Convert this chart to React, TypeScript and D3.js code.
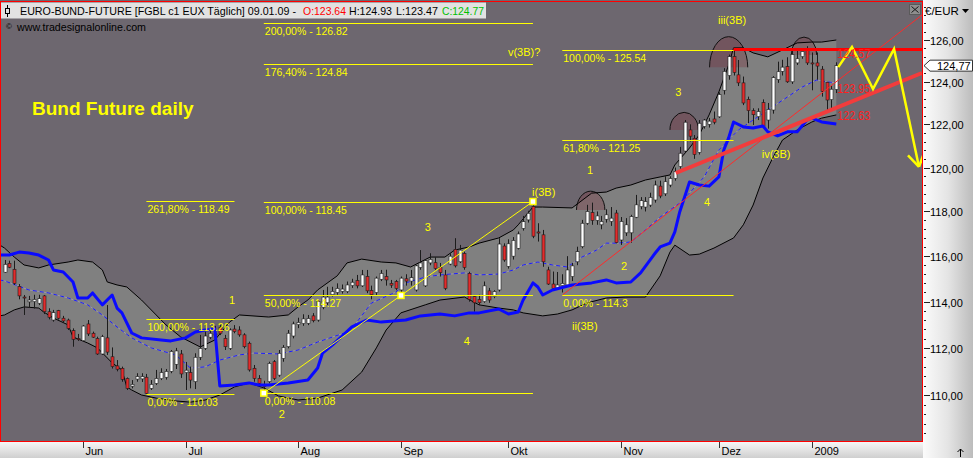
import { useEffect, useRef } from 'react'
import * as d3 from 'd3'

// daily bars, bar 0 = 09.05.08 ... bar 170 = 09.01.09
const opens = [
  115.29, 115.68, 115.42, 114.66, 114.2, 113.99, 114.0, 113.93, 114.25, 113.56,
  113.2, 113.61, 113.28, 113.2, 112.74, 112.4, 112.31, 113.03, 112.63, 112.4,
  111.74, 112.43, 111.62, 111.23, 111.13, 110.7, 110.37, 110.67, 110.68, 110.75,
  110.28, 110.49, 110.69, 110.75, 111.0, 111.3, 111.74, 110.95, 110.95, 110.56,
  111.6, 111.98, 112.46, 112.6, 112.89, 112.41, 111.98, 112.81, 112.77, 112.56,
  112.2, 111.13, 110.7, 110.45, 110.56, 111.41, 110.84, 111.55, 112.05, 112.51,
  113.0, 113.05, 113.06, 113.38, 113.2, 113.75, 113.95, 114.3, 114.4, 114.45,
  114.44, 114.7, 114.92, 114.69, 115.1, 114.49, 114.4, 114.98, 115.1, 114.8,
  114.88, 114.51, 115.0, 114.9, 114.51, 115.5, 114.69, 115.7, 115.71, 115.5,
  115.17, 115.65, 116.3, 115.75, 116.12, 115.24, 114.22, 114.1, 114.0, 114.47,
  114.22, 114.51, 116.45, 115.55, 116.0, 116.35, 117.24, 117.62, 118.22, 117.08,
  116.95, 115.39, 114.77, 114.6, 114.7, 114.73, 115.1, 115.75, 116.42, 117.47,
  117.95, 117.6, 117.4, 117.65, 117.55, 117.93, 116.72, 117.04, 117.04, 117.74,
  118.22, 118.2, 118.29, 118.52, 119.15, 118.8, 119.2, 119.5, 120.05, 120.76,
  121.74, 121.35, 120.7, 121.9, 122.0, 122.25, 122.35, 123.6, 124.3, 125.2,
  124.33, 123.95, 123.17, 122.64, 122.36, 123.02, 122.2, 122.67, 124.1, 124.5,
  124.72, 124.0, 124.9, 125.2, 125.6, 124.9, 124.9, 124.6, 123.98, 123.16,
  123.64,
]
const highs = [
  115.83, 115.8, 115.8, 114.77, 114.29, 114.25, 114.3, 114.3, 114.29, 113.71,
  113.64, 113.64, 113.38, 113.26, 112.84, 112.6, 112.98, 113.2, 112.7, 112.48,
  112.56, 113.85, 112.02, 111.48, 111.2, 110.74, 110.63, 110.92, 110.92, 110.89,
  110.63, 111.06, 111.13, 111.1, 111.91, 112.0, 111.91, 111.4, 111.2, 111.77,
  112.56, 112.7, 112.77, 112.95, 112.98, 112.56, 112.84, 112.98, 112.93, 112.63,
  112.27, 111.27, 110.84, 110.6, 111.41, 111.48, 111.91, 112.12, 112.77, 113.13,
  113.3, 113.45, 113.42, 113.5, 114.07, 114.51, 114.65, 114.65, 114.8, 114.75,
  114.88, 115.0, 115.17, 115.39, 115.39, 114.7, 115.1, 115.39, 115.4, 114.95,
  114.95, 115.1, 115.2, 115.39, 115.61, 116.27, 115.86, 116.13, 115.95, 115.7,
  115.39, 116.13, 116.8, 116.5, 116.2, 115.31, 114.29, 114.3, 114.88, 114.6,
  114.5, 116.8, 116.57, 116.75, 116.85, 117.1, 117.8, 118.03, 118.45, 117.47,
  117.17, 115.53, 115.32, 115.3, 115.2, 116.0, 115.7, 116.42, 117.62, 118.3,
  118.4, 118.0, 117.8, 118.1, 118.2, 118.07, 117.75, 117.7, 117.85, 118.75,
  118.65, 118.65, 118.85, 119.4, 119.4, 119.6, 119.6, 120.0, 120.95, 122.2,
  122.0, 121.5, 122.2, 122.25, 122.3, 122.6, 123.5, 124.65, 125.3, 125.6,
  125.04, 124.25, 123.3, 122.75, 122.75, 123.17, 123.0, 124.27, 124.96, 125.05,
  125.17, 125.5, 125.55, 125.6, 125.7, 125.4, 125.4, 124.75, 124.0, 123.8,
  124.93,
]
const lows = [
  115.26, 115.47, 114.73, 114.1, 113.42, 113.72, 113.7, 113.85, 113.46, 113.23,
  113.13, 113.22, 113.08, 112.77, 112.05, 112.3, 112.27, 112.51, 112.43, 111.7,
  111.7, 111.7, 111.12, 111.0, 110.56, 110.21, 110.28, 110.56, 110.55, 110.03,
  110.21, 110.42, 110.63, 110.65, 110.92, 111.1, 110.72, 110.21, 110.28, 110.25,
  111.48, 111.91, 112.38, 112.3, 112.55, 111.91, 111.91, 112.63, 112.48, 111.98,
  110.99, 110.56, 110.42, 110.08, 110.49, 110.63, 110.77, 111.41, 111.98, 112.41,
  112.85, 112.95, 112.98, 113.1, 113.13, 113.67, 113.85, 114.22, 114.3, 114.35,
  114.37, 114.6, 114.58, 114.64, 114.37, 114.1, 114.29, 114.9, 114.7, 114.6,
  114.5, 114.4, 114.7, 114.7, 114.44, 115.4, 114.64, 115.6, 115.39, 115.1,
  114.5, 115.6, 115.5, 115.7, 115.4, 114.0, 113.56, 113.85, 113.95, 113.95,
  114.15, 114.44, 115.75, 115.45, 115.85, 116.3, 117.14, 117.5, 116.8, 116.65,
  115.53, 114.73, 114.51, 114.51, 114.4, 114.64, 114.9, 115.6, 116.35, 117.4,
  117.4, 117.4, 117.2, 117.5, 117.35, 116.57, 116.5, 116.9, 116.6, 117.7,
  118.1, 118.0, 118.2, 118.4, 118.6, 118.7, 119.1, 119.4, 119.95, 120.7,
  121.2, 120.4, 120.6, 121.8, 121.85, 122.0, 122.3, 123.4, 124.1, 124.3,
  123.8, 122.9, 122.05, 121.97, 122.2, 121.83, 121.8, 122.5, 123.95, 124.3,
  123.95, 123.9, 124.8, 125.1, 124.8, 123.6, 124.1, 123.3, 122.67, 122.75,
  123.47,
]
const closes = [
  115.64, 115.51, 114.8, 114.25, 114.17, 114.07, 114.1, 114.13, 113.56, 113.32,
  113.52, 113.28, 113.16, 112.84, 112.37, 112.37, 112.94, 112.6, 112.46, 111.74,
  112.48, 111.82, 111.2, 111.09, 110.66, 110.28, 110.45, 110.78, 110.78, 110.07,
  110.45, 110.7, 110.95, 111.0, 111.85, 111.87, 110.89, 111.05, 110.63, 111.6,
  111.98, 112.51, 112.63, 112.55, 112.63, 112.05, 112.77, 112.7, 112.56, 112.05,
  111.06, 110.7, 110.49, 110.35, 111.34, 110.7, 111.77, 112.02, 112.63, 113.03,
  113.1, 113.25, 113.27, 113.17, 114.0, 114.2, 114.2, 114.45, 114.58, 114.55,
  114.73, 114.85, 114.69, 115.17, 114.47, 114.3, 115.03, 115.24, 114.95, 114.72,
  114.58, 115.03, 114.9, 115.05, 115.57, 115.7, 115.8, 115.86, 115.46, 115.27,
  114.58, 116.0, 115.57, 116.27, 115.5, 114.1, 113.95, 113.95, 114.69, 114.07,
  114.44, 116.54, 115.83, 116.55, 116.7, 116.99, 117.54, 117.92, 116.89, 117.03,
  115.75, 114.77, 114.58, 114.73, 114.8, 115.39, 115.57, 116.2, 117.47, 118.0,
  117.6, 117.8, 117.55, 117.85, 117.7, 116.6, 117.55, 117.4, 117.77, 118.3,
  118.49, 118.45, 118.64, 119.2, 118.7, 119.35, 119.5, 119.82, 120.66, 122.1,
  121.45, 120.6, 122.05, 122.2, 122.15, 122.1, 123.4, 124.5, 125.2, 124.45,
  123.95, 123.0, 122.64, 122.45, 122.6, 121.9, 122.7, 124.2, 124.48, 124.7,
  124.0, 125.3, 125.1, 125.45, 124.9, 124.85, 124.75, 123.55, 123.14, 123.65,
  124.77,
]

// month starts (bar index) for the time axis
const monthBars = [16, 37, 60, 81, 103, 126, 146, 165]
const monthLabels = ['Jun', 'Jul', 'Aug', 'Sep', 'Okt', 'Nov', 'Dez', '2009']
const priceTicks = [110, 112, 114, 116, 118, 120, 122, 124, 126]

// indicators, read as [bar, price]
const upperBand: [number, number][] = [
  [-1, 116.5], [0, 116.36], [2, 115.96], [4, 115.61], [7, 115.48], [9, 115.61], [13, 115.74], [15, 115.83],
  [18, 115.74], [20, 115.39], [21, 114.86], [23, 114.73], [25, 114.64], [28, 114.07], [31, 113.42], [33, 112.99],
  [36, 112.47], [40, 112.04], [43, 112.34], [46, 113.11], [48, 113.42], [54, 113.33], [58, 113.42], [60, 113.77],
  [62, 114.07], [64, 114.51], [68, 115.13], [70, 115.7], [73, 115.87], [77, 115.74], [80, 115.7], [83, 115.52],
  [85, 115.74], [87, 115.96], [90, 115.96], [92, 116.27], [95, 116.41], [97, 116.58], [101, 116.81], [104, 117.17],
  [105, 117.4], [108, 118.2], [110, 118.2], [116, 118.16], [120, 118.83], [123, 118.88], [125, 119.06], [128, 119.2],
  [131, 119.43], [134, 119.57], [136, 119.66], [137, 120.12], [140, 120.9], [142, 121.51], [144, 122.44], [146, 123.52],
  [148, 124.8], [149, 125.62], [151, 125.62], [153, 125.38], [156, 125.19], [159, 125.52], [162, 125.86], [165, 125.9],
  [167, 125.9], [170, 126.0],
]
const lowerBand: [number, number][] = [
  [-1, 113.38], [0, 113.42], [2, 113.64], [4, 113.77], [7, 113.72], [8, 113.55], [10, 113.29], [13, 112.99],
  [14, 112.47], [17, 112.21], [19, 112.0], [22, 111.36], [24, 111.06], [25, 110.34], [26, 110.21], [28, 110.0],
  [31, 109.87], [35, 109.75], [38, 109.7], [41, 109.79], [44, 110.0], [47, 110.34], [50, 110.51], [53, 110.3],
  [56, 109.96], [60, 109.79], [64, 109.87], [69, 110.21], [73, 110.97], [76, 112.0], [78, 112.77], [81, 113.51],
  [86, 113.86], [89, 114.07], [94, 114.2], [97, 113.86], [101, 113.72], [104, 113.64], [106, 113.51], [110, 113.38],
  [113, 113.46], [116, 113.64], [119, 113.94], [123, 114.16], [127, 114.2], [131, 114.2], [134, 115.13], [136, 116.18],
  [137, 116.49], [140, 116.05], [142, 116.09], [145, 116.36], [149, 116.81], [151, 117.4], [153, 118.29], [155, 119.52],
  [157, 120.44], [159, 121.27], [162, 121.74], [165, 122.11], [167, 122.29], [170, 122.44],
]
const middleAvg: [number, number][] = [
  [-1, 114.95], [0, 114.91], [5, 114.51], [9, 114.38], [13, 114.16], [17, 113.86], [20, 113.42], [23, 112.9],
  [26, 112.43], [30, 112.0], [35, 111.7], [38, 111.14], [41, 111.19], [44, 111.48], [48, 111.7], [51, 111.78],
  [56, 111.74], [60, 111.91], [64, 112.25], [70, 112.68], [72, 113.11], [75, 113.94], [80, 114.42], [82, 114.82],
  [86, 115.08], [89, 115.17], [94, 115.26], [97, 115.17], [101, 115.21], [104, 115.39], [106, 115.61], [109, 115.74],
  [112, 115.61], [115, 115.52], [118, 115.96], [121, 116.27], [123, 116.58], [125, 116.58], [128, 116.63], [131, 117.17],
  [134, 117.75], [138, 118.38], [140, 118.84], [143, 119.57], [146, 120.81], [150, 121.74], [153, 122.2], [156, 122.67],
  [160, 123.28], [163, 123.75], [166, 124.09], [168, 124.0], [170, 123.95],
]
const stopLine: [number, number][] = [
  [-1, 116.05], [1, 116.05], [3, 116.18], [5, 116.14], [7, 116.05], [9, 115.83], [10, 115.39], [12, 115.3],
  [14, 114.86], [15, 114.16], [17, 114.16], [18, 114.38], [20, 113.86], [22, 114.29], [23, 113.72], [24, 113.51],
  [26, 112.64], [28, 112.43], [32, 112.34], [34, 112.3], [37, 112.43], [39, 112.68], [41, 112.77], [43, 112.81],
  [44, 110.38], [47, 110.42], [50, 110.51], [52, 110.42], [54, 110.42], [58, 110.51], [62, 110.63], [64, 111.14],
  [65, 111.78], [67, 112.12], [69, 112.51], [71, 112.9], [74, 113.2], [77, 113.11], [82, 113.2], [85, 113.38],
  [89, 113.46], [92, 113.38], [95, 113.51], [97, 113.51], [101, 113.68], [103, 113.46], [105, 113.55], [106, 114.07],
  [108, 114.82], [109, 114.64], [110, 114.29], [112, 114.51], [116, 114.73], [120, 114.82], [123, 114.95], [125, 114.82],
  [128, 114.86], [130, 115.26], [133, 116.14], [134, 116.41], [136, 116.58], [137, 117.08], [138, 117.98], [140, 119.34],
  [142, 119.2], [144, 119.15], [146, 119.57], [147, 120.81], [148, 121.37], [149, 122.11], [151, 121.88], [153, 121.83],
  [155, 121.92], [156, 121.65], [158, 121.46], [160, 121.65], [162, 121.65], [164, 122.2], [165, 122.29], [167, 122.11],
  [170, 122.02],
]

// fibonacci levels
const fibTexts = [
  '261,80% - 118.49', '100,00% - 113.26', '0,00% - 110.03',
  '200,00% - 126.82', '176,40% - 124.84', '100,00% - 118.45', '50,00% - 114.27', '0,00% - 110.08',
  '100,00% - 125.54', '61,80% - 121.25', '0,00% - 114.3',
]
const fibValues = [118.49, 113.26, 110.03, 126.82, 124.84, 118.45, 114.27, 110.08, 125.54, 121.25, 114.3]
const fibFrom = [29, 29, 29, 53, 53, 53, 53, 53, 114, 114, 114]
const fibTo = [47, 47, 47, 108, 108, 108, 108, 108, 149, 149, 149]

// elliott wave labels: text, bar, price
const waveTexts = ['1', '2', '3', '4', 'i(3B)', 'ii(3B)', '1', '2', '3', '4', 'iii(3B)', 'iv(3B)', 'v(3B)?']
const waveBars = [46.5, 56.7, 86.5, 94.5, 110.2, 118.6, 119.7, 126.6, 137.7, 143.6, 148.7, 157.7, 106.2]
const wavePrices = [113.9, 109.05, 117.13, 112.12, 118.7, 112.77, 119.71, 115.39, 123.33, 118.25, 126.77, 120.44, 125.23]

// top arcs: bar, base price, top price, half width in bars
const arcs = [
  { bar: 119.8, base: 118.07, top: 118.92, half: 2.9 },
  { bar: 138.9, base: 121.74, top: 122.56, half: 2.9 },
  { bar: 148.0, base: 124.69, top: 126.16, half: 3.9 },
  { bar: 163.4, base: 125.28, top: 126.14, half: 2.6 },
]

// channel lines and projection
const wave2Low: [number, number] = [53, 110.08]
const wave1High: [number, number] = [108, 118.45]
const thinRed: [number, number][] = [[114.1, 114.3], [187.5, 127.21]]
const thickRed: [number, number][] = [[137.2, 119.75], [187.5, 124.42]]
const topRed: [number, number][] = [[149, 125.54], [187.5, 125.54]]
const projection: [number, number][] = [[170.4, 124.7], [173.2, 125.66], [177.5, 123.66], [181.8, 125.57], [186.9, 120.03]]
const valueTags = ['124.57', '123.95', '122.63']
const valueTagPrices = [125.14, 123.49, 122.2]

export default function App() {
  const svgRef = useRef<SVGSVGElement>(null)

  useEffect(() => {
    if (!svgRef.current) return
    const svg = d3.select(svgRef.current)
    svg.selectAll('*').remove()

    const width = 973
    const height = 458
    const plotRight = 922
    const plotBottom = 441
    const font = '"Liberation Sans", Arial, sans-serif'

    const x = d3.scaleLinear().domain([0, 170]).range([4.5, 836.3])
    const y = d3.scaleLog().domain([110, 126]).range([395, 40])
    const px = (d: [number, number]): [number, number] => [x(d[0]), y(d[1])]
    const line = d3.line()

    const defs = svg.append('defs')
    defs.append('clipPath').attr('id', 'plotClip')
      .append('rect').attr('x', 1).attr('y', 2).attr('width', plotRight - 1).attr('height', plotBottom - 2)
    const gR = defs.append('linearGradient').attr('id', 'axisR').attr('x1', 0).attr('x2', 1).attr('y1', 0).attr('y2', 0)
    gR.append('stop').attr('offset', '0%').attr('stop-color', '#fbfbfb')
    gR.append('stop').attr('offset', '50%').attr('stop-color', '#e4e4e4')
    gR.append('stop').attr('offset', '100%').attr('stop-color', '#bcbcbc')
    const gB = defs.append('linearGradient').attr('id', 'axisB').attr('x1', 0).attr('x2', 0).attr('y1', 0).attr('y2', 1)
    gB.append('stop').attr('offset', '0%').attr('stop-color', '#f6f6f6')
    gB.append('stop').attr('offset', '100%').attr('stop-color', '#cfcfcf')

    // backgrounds
    svg.append('rect').attr('width', width).attr('height', height).attr('fill', '#dcdcdc')
    svg.append('rect').attr('width', plotRight + 1).attr('height', plotBottom + 1).attr('fill', '#6d676f')
    svg.append('rect').attr('x', plotRight + 1).attr('width', width - plotRight - 1).attr('height', height).attr('fill', 'url(#axisR)')
    svg.append('rect').attr('y', plotBottom + 1).attr('width', plotRight + 1).attr('height', height - plotBottom - 1).attr('fill', 'url(#axisB)')

    const g = svg.append('g').attr('clip-path', 'url(#plotClip)')

    // bollinger fill
    const up = upperBand.map(px)
    const lo = lowerBand.map(px)
    g.append('path').attr('d', line(up.concat(lo.slice().reverse())) + 'Z').attr('fill', '#808080')

    // arcs
    arcs.forEach(a => {
      const cx = x(a.bar)
      const by = y(a.base)
      const rx = x(a.bar + a.half) - cx
      const ry = by - y(a.top)
      const d = `M${cx - rx},${by} A${rx},${ry} 0 0 1 ${cx + rx},${by}`
      g.append('path').attr('d', d + 'Z').attr('fill', 'rgba(125,50,60,0.33)')
      g.append('path').attr('d', d).attr('fill', 'none').attr('stroke', '#111').attr('stroke-width', 1)
    })

    // band outlines and average
    g.append('path').attr('d', line(up)).attr('fill', 'none').attr('stroke', '#000').attr('stroke-width', 1)
    g.append('path').attr('d', line(lo)).attr('fill', 'none').attr('stroke', '#000').attr('stroke-width', 1)
    const ma = middleAvg.map(px)
    g.append('path').attr('d', line(ma)).attr('fill', 'none').attr('stroke', '#9a98a6').attr('stroke-width', 1)
    g.append('path').attr('d', line(ma)).attr('fill', 'none').attr('stroke', '#1a1aff')
      .attr('stroke-width', 1).attr('stroke-dasharray', '4,3')

    // candles
    const idx = d3.range(closes.length)
    const cxr = (i: number) => Math.round(x(i))
    g.append('g').selectAll('line').data(idx).join('line')
      .attr('x1', i => cxr(i) + 0.5).attr('x2', i => cxr(i) + 0.5)
      .attr('y1', i => y(highs[i])).attr('y2', i => y(lows[i]))
      .attr('stroke', '#1c1c1c').attr('stroke-width', 1)
    g.append('g').selectAll('rect').data(idx).join('rect')
      .attr('x', i => cxr(i) - 1)
      .attr('width', 3)
      .attr('y', i => y(Math.max(opens[i], closes[i])))
      .attr('height', i => Math.max(1, Math.abs(y(opens[i]) - y(closes[i]))))
      .attr('fill', i => (closes[i] >= opens[i] ? '#ffffff' : '#e22c2c'))
      .attr('stroke', '#1c1c1c').attr('stroke-width', 0.6)

    // stop line
    g.append('path').attr('d', line(stopLine.map(px))).attr('fill', 'none')
      .attr('stroke', '#0a0aff').attr('stroke-width', 3).attr('stroke-linejoin', 'round')

    // red channel lines
    g.append('path').attr('d', line(thinRed.map(px))).attr('stroke', '#ff2a2a').attr('stroke-width', 1)
    g.append('path').attr('d', line(thickRed.map(px))).attr('stroke', '#f23c3c').attr('stroke-width', 4)
    g.append('path').attr('d', line(topRed.map(px))).attr('stroke', '#ff0000').attr('stroke-width', 3)

    // fibonacci levels
    fibValues.forEach((v, i) => {
      const x1 = x(fibFrom[i])
      const x2 = x(fibTo[i])
      g.append('line').attr('x1', x1).attr('x2', x2).attr('y1', Math.round(y(v)) + 0.5).attr('y2', Math.round(y(v)) + 0.5)
        .attr('stroke', '#ffff00').attr('stroke-width', 1)
      g.append('text').attr('x', x1 + 1).attr('y', y(v) + 12).text(fibTexts[i])
        .attr('fill', '#ffff00').attr('font-family', font).attr('font-size', 10.5)
    })

    // wave-1 diagonal with markers
    const [ax, ay] = px(wave2Low)
    const [bx, by] = px(wave1High)
    g.append('line').attr('x1', ax).attr('y1', ay).attr('x2', bx).attr('y2', by).attr('stroke', '#ffff00').attr('stroke-width', 1)
    const midY = y(fibValues[6])
    const midX = ax + ((midY - ay) / (by - ay)) * (bx - ax)
    ;[[ax, ay], [midX, midY], [bx, by]].forEach(([sx, sy]) => {
      g.append('rect').attr('x', sx - 3).attr('y', sy - 3).attr('width', 6).attr('height', 6)
        .attr('fill', '#ffffff').attr('stroke', '#ffff00').attr('stroke-width', 1.5)
    })

    // projection zigzag
    const proj = projection.map(px)
    g.append('path').attr('d', line(proj)).attr('fill', 'none').attr('stroke', '#ffff00')
      .attr('stroke-width', 2.5).attr('stroke-linejoin', 'miter')
    const [tx, ty] = proj[proj.length - 1]
    const [sx, sy] = proj[proj.length - 2]
    const ang = Math.atan2(ty - sy, tx - sx)
    ;[-0.55, 0.55].forEach(off => {
      const a = ang + Math.PI + off
      g.append('line').attr('x1', tx).attr('y1', ty).attr('x2', tx + 16 * Math.cos(a)).attr('y2', ty + 16 * Math.sin(a))
        .attr('stroke', '#ffff00').attr('stroke-width', 2.5)
    })

    // wave labels
    waveTexts.forEach((t, i) => {
      g.append('text').attr('x', x(waveBars[i])).attr('y', y(wavePrices[i])).text(t)
        .attr('text-anchor', 'middle').attr('fill', '#ffff00').attr('font-family', font).attr('font-size', 11)
    })

    // value tags near last bar
    valueTags.forEach((t, i) => {
      g.append('text').attr('x', x(170) + 1).attr('y', y(valueTagPrices[i])).text(t)
        .attr('fill', '#ff2020').attr('font-family', font).attr('font-size', 12.5)
        .attr('textLength', 33).attr('lengthAdjust', 'spacingAndGlyphs')
    })

    // chart title
    g.append('text').attr('x', 32).attr('y', 115).text('Bund Future daily')
      .attr('fill', '#ffff00').attr('font-family', font).attr('font-weight', 'bold').attr('font-size', 19)

    // header
    svg.append('rect').attr('x', 1).attr('y', 2.5).attr('width', 485).attr('height', 16).attr('fill', '#e2e2e2')
    svg.append('line').attr('x1', 7.5).attr('x2', 7.5).attr('y1', 5).attr('y2', 17).attr('stroke', '#000')
    svg.append('rect').attr('x', 5.5).attr('y', 8.5).attr('width', 4).attr('height', 5).attr('fill', '#e2e2e2').attr('stroke', '#000')
    const hdr = [
      { t: 'EURO-BUND-FUTURE [FGBL c1 EUX  Täglich] 09.01.09 -', x: 20, w: 276, c: '#000' },
      { t: 'O:123.64', x: 303, w: 43, c: '#ff0000' },
      { t: 'H:124.93', x: 349, w: 43, c: '#000' },
      { t: 'L:123.47', x: 396, w: 42, c: '#000' },
      { t: 'C:124.77', x: 442, w: 42, c: '#00c000' },
    ]
    hdr.forEach(h => {
      svg.append('text').attr('x', h.x).attr('y', 15).text(h.t).attr('fill', h.c)
        .attr('font-family', font).attr('font-size', 11)
        .attr('textLength', h.w).attr('lengthAdjust', 'spacingAndGlyphs')
    })
    svg.append('text').attr('x', 6).attr('y', 29).text('©').attr('font-family', font).attr('font-size', 8).attr('fill', '#000')
    svg.append('text').attr('x', 17).attr('y', 31).text('www.tradesignalonline.com')
      .attr('font-family', font).attr('font-size', 11).attr('fill', '#000')
      .attr('textLength', 129).attr('lengthAdjust', 'spacingAndGlyphs')

    // close box
    svg.append('rect').attr('x', 909.5).attr('y', 4.5).attr('width', 11).attr('height', 10).attr('fill', '#8e8e8e').attr('stroke', '#5a5a5a')
    svg.append('path').attr('d', 'M911.5,6.5L918.5,12.5M918.5,6.5L911.5,12.5').attr('stroke', '#1a1a1a').attr('stroke-width', 1)

    // plot border
    svg.append('rect').attr('x', 0.5).attr('y', 1.5).attr('width', plotRight).attr('height', plotBottom - 1)
      .attr('fill', 'none').attr('stroke', '#ff0000').attr('stroke-width', 1)

    // price axis
    const ax2 = svg.append('g')
    d3.range(108.4, 127.9, 0.4).forEach(v => {
      const yy = Math.round(y(v)) + 0.5
      ax2.append('line').attr('x1', 924).attr('x2', 926).attr('y1', yy).attr('y2', yy).attr('stroke', '#222')
    })
    priceTicks.forEach(v => {
      const yy = Math.round(y(v)) + 0.5
      ax2.append('line').attr('x1', 924).attr('x2', 930).attr('y1', yy).attr('y2', yy).attr('stroke', '#222')
      ax2.append('text').attr('x', 930).attr('y', yy + 4).text(d3.format('.2f')(v).replace('.', ','))
        .attr('font-family', font).attr('font-size', 11).attr('fill', '#000')
    })
    ax2.append('text').attr('x', 925).attr('y', 15).text('€/EUR').attr('font-family', font).attr('font-size', 11.5).attr('fill', '#000')
    ax2.append('path').attr('d', 'M962,9L969,9L965.5,13Z').attr('fill', '#000')

    // last price tag
    const lastY = y(closes[closes.length - 1])
    ax2.append('path')
      .attr('d', `M924,${lastY}L930,${lastY - 5.5}L972.5,${lastY - 5.5}L972.5,${lastY + 5.5}L930,${lastY + 5.5}Z`)
      .attr('fill', '#ffffff').attr('stroke', '#333').attr('stroke-width', 1)
    ax2.append('text').attr('x', 937).attr('y', lastY + 4).text(d3.format('.2f')(closes[closes.length - 1]).replace('.', ','))
      .attr('font-family', font).attr('font-size', 11).attr('fill', '#000')

    // time axis
    const tx2 = svg.append('g')
    monthBars.forEach((b, i) => {
      const xx = Math.round(x(b)) + 0.5
      tx2.append('line').attr('x1', xx).attr('x2', xx).attr('y1', 442).attr('y2', 448).attr('stroke', '#333')
      tx2.append('text').attr('x', xx + 2).attr('y', 455).text(monthLabels[i])
        .attr('font-family', font).attr('font-size', 11).attr('fill', '#000')
    })
    tx2.append('path').attr('d', 'M960.5,449L960.5,457M957.5,452L960.5,449L963.5,452').attr('stroke', '#000').attr('fill', 'none')
  }, [])

  return (
    <svg ref={svgRef} width={973} height={458} style={{ position: 'absolute', left: 0, top: 0, display: 'block' }} />
  )
}
